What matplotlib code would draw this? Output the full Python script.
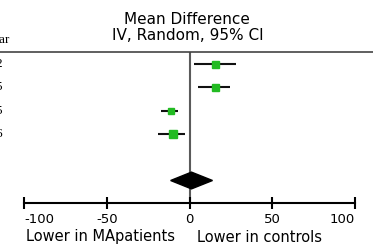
import numpy as np
import matplotlib
matplotlib.use("Agg")
import matplotlib.pyplot as plt
from matplotlib.lines import Line2D
from matplotlib.transforms import blended_transform_factory

# study rows (years are cut off at the left edge of the picture)
years = ['2012', '2015', '2015', '2016']
md = [15.7, 15.7, -11.4, -10.2]
ci_lo = [3.0, 5.4, -17.5, -19.3]
ci_hi = [28.3, 24.7, -7.2, -3.0]
box_px = [7, 7, 6, 8]
# pooled estimate (mean, lower, upper)
pooled = [1.2, -11.4, 13.9]
ticks = [-100, -50, 0, 50, 100]
tick_labels = ['-100', '-50', '0', '50', '100']

W, H = 373, 248
fig = plt.figure(figsize=(W / 100, H / 100), dpi=100)

def fx(px):
    return px / W

def fy(py):
    return 1 - py / H

# axes: x -100..100 spans pixels 24..355, rows spaced 23.3 px from y=64
ax = fig.add_axes([fx(24), fy(203), fx(355) - fx(24), fy(52) - fy(203)])
ax.set_xlim(-100, 100)
ax.set_ylim((203 - 64) / 23.3, (52 - 64) / 23.3)
ax.patch.set_visible(False)
for s in ['top', 'left', 'right']:
    ax.spines[s].set_visible(False)
ax.spines['bottom'].set_linewidth(1.5)
ax.set_yticks([])
ax.set_xticks(ticks)
ax.set_xticklabels(tick_labels, fontsize=9.5, family='DejaVu Sans')
ax.tick_params(axis='x', direction='inout', length=9, width=1.5, pad=3)
labs = ax.get_xticklabels()
labs[0].set_ha('left')
labs[-1].set_ha('right')

ax.axvline(0, color='#5a5a5a', lw=1.5, zorder=1)

rows = np.arange(len(md))
ax.hlines(rows, ci_lo, ci_hi, color='#111111', lw=1.5, zorder=2)
for r, m, s in zip(rows, md, box_px):
    ax.plot(m, r, marker='s', ms=s * 0.72, color='#22bb22', mec='#22bb22', zorder=3)

dy = 5.0
h = 0.36
ax.fill([pooled[1], pooled[0], pooled[2], pooled[0]],
        [dy, dy - h, dy, dy + h], color='black', zorder=3)

# header line
fig.add_artist(Line2D([0, 1], [fy(52), fy(52)], transform=fig.transFigure,
                      color='#444444', lw=1.2))

fig.text(fx(187), fy(19), 'Mean Difference', ha='center', va='center', fontsize=11)
fig.text(fx(188), fy(36), 'IV, Random, 95% CI', ha='center', va='center', fontsize=11)

fig.text(fx(10), fy(40), 'Year', ha='right', va='center', fontsize=9.5,
         family='Liberation Serif')
tr = blended_transform_factory(fig.transFigure, ax.transData)
for r, yr in zip(rows, years):
    ax.text(fx(3), r, yr, transform=tr, ha='right', va='center', fontsize=9.5,
            family='Liberation Serif', clip_on=False)

fig.text(fx(175), fy(237), 'Lower in MApatients', ha='right', va='center', fontsize=10.5)
fig.text(fx(197), fy(237), 'Lower in controls', ha='left', va='center', fontsize=10.5)

fig.savefig('out.png', dpi=100)
